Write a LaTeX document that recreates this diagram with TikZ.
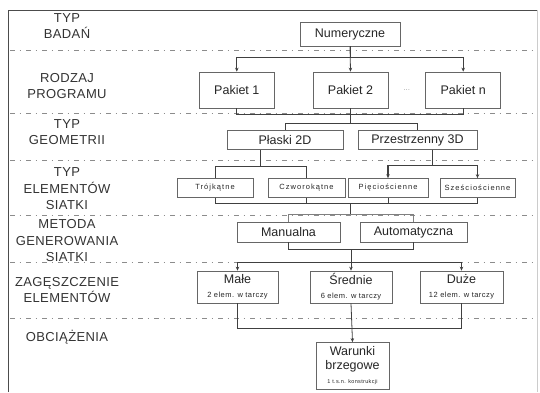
\documentclass[tikz,border=0pt]{standalone}
\usepackage{fontspec}
\setmainfont{Liberation Sans}
\usetikzlibrary{positioning, arrows.meta, calc}

\newcommand{\notefont}{\fontsize{7.5}{9}\selectfont\addfontfeature{LetterSpace=6}}

\begin{document}
\begin{tikzpicture}[
    x=1pt, y=-1pt,
    node distance=38pt,
    box/.style={rectangle, draw=black!60, line width=0.7pt, fill=white, align=center, inner sep=1pt, text=black!85, font=\fontsize{12.5}{14}\selectfont},
    elem/.style={box, minimum height=19pt, font=\fontsize{7.5}{8}\selectfont\addfontfeature{LetterSpace=14}},
    level/.style={align=center, text=black!80, font=\fontsize{13}{16.5}\selectfont\addfontfeature{LetterSpace=3}},
    sep/.style={black!45, line width=0.6pt, dash pattern=on 4.5pt off 5pt on 1.5pt off 5pt},
    link/.style={black!75, line width=0.8pt},
    arrow/.style={link, -{Stealth[length=4pt, width=3.5pt]}}
]
    \useasboundingbox (0,0) rectangle (540,392);

    % frame and level separators
    \draw[black!70, line width=0.7pt] (8,392) -- (8,10) -- (537,10);
    \draw[black!20, line width=0.6pt] (537,10) -- (537,392);
    \foreach \y in {50,113,160,215,262,318}
        \draw[sep] (10,\y) -- (532,\y);

    % levels
    \node[level] (badan) at (67,26) {TYP\\BADAŃ};
    \node[level] (program) at (67,86) {RODZAJ\\PROGRAMU};
    \node[level] (geometria) at (67,132) {TYP\\GEOMETRII};
    \node[level] (elementy) at (67,189) {TYP\\ELEMENTÓW\\SIATKI};
    \node[level] (metoda) at (67,241) {METODA\\GENEROWANIA\\SIATKI};
    \node[level] (zageszcz) at (67,290) {ZAGĘSZCZENIE\\ELEMENTÓW};
    \node[level] (obciaz) at (67,337) {OBCIĄŻENIA};

    % boxes
    \node[box, minimum width=100pt, minimum height=24pt] (num) at (350,34) {Numeryczne};

    \node[box, minimum width=75pt, minimum height=36pt] (pak2) at (350.5,90) {Pakiet 2};
    \node[box, minimum width=75pt, minimum height=36pt, left=of pak2] (pak1) {Pakiet 1};
    \node[box, minimum width=75pt, minimum height=36pt, right=37pt of pak2] (pakn) {Pakiet n};
    \node[text=black!35, font=\footnotesize] (dots) at ($(pak2.east)!.5!(pakn.west)$) {...};

    \node[box, minimum width=116pt, minimum height=19pt] (plaski) at (285,140) {Płaski 2D};
    \node[box, minimum width=119pt, minimum height=19pt] (przestrz) at (417.5,140) {Przestrzenny 3D};

    \node[elem, minimum width=76pt] (tro) at (215,188) {Trójkątne};
    \node[elem, minimum width=77pt] (czw) at (306.5,188) {Czworokątne};
    \node[elem, minimum width=80pt] (pie) at (388,188) {Pięciościenne};
    \node[elem, minimum width=75pt] (sze) at (477.5,188) {Sześciościenne};

    \node[box, minimum width=103pt, minimum height=20pt] (man) at (288.5,232) {Manualna};
    \node[box, minimum width=107pt, minimum height=20pt] (auto) at (413.5,232) {Automatyczna};

    \node[box, minimum width=81pt, minimum height=32pt] (male) at (237.5,287) {Małe\\{\notefont 2 elem. w tarczy}};
    \node[box, minimum width=82pt, minimum height=32pt] (sred) at (351,287) {Średnie\\{\notefont 6 elem. w tarczy}};
    \node[box, minimum width=83pt, minimum height=32pt] (duze) at (461.5,287) {Duże\\{\notefont 12 elem. w tarczy}};

    \node[box, minimum width=73pt, minimum height=47pt] (war) at (352.5,366) {Warunki\\brzegowe\\{\fontsize{5.5}{7}\selectfont\addfontfeature{LetterSpace=6} 1 t.s.n. konstrukcji}};

    % connectors
    \draw[arrow] (num.south) -- ++(0,11) -| (pak1.north);
    \draw[arrow] (num.south) -- ++(0,11) -| (pakn.north);
    \draw[arrow] (num.south) -- (pak2.north);

    \draw[link] (pak1.south) -- ++(0,6) -| (pakn.south);
    \draw[link] (pak2.south) -- ++(0,15) coordinate (g1);
    \draw[link] (g1) -| (plaski.north);
    \draw[link] (g1) -| (przestrz.north);

    \coordinate (e1) at ($(tro.north)!.5!(czw.north)$);
    \coordinate (e2) at ($(pie.north)!.5!(sze.north)$);
    \draw[link] (plaski.south -| e1) -- ++(0,17) -| (tro.north);
    \draw[link] (plaski.south -| e1) -- ++(0,17) -| (czw.north);
    \draw[arrow, line width=1.1pt] (przestrz.south -| e2) -- ++(0,16) -| (pie.north);
    \draw[arrow, line width=1.1pt] (przestrz.south -| e2) -- ++(0,16) -| (sze.north);

    \draw[link] (tro.south) -- ++(0,6) -| (sze.south);
    \draw[link] (czw.south) -- ++(0,6);
    \draw[link] (pie.south) -- ++(0,6);
    \draw[link] ($(tro.south -| num.south)+(0,6)$) -- ++(0,11) coordinate (g2);
    \draw[link, black!50] (g2) -| (man.north);
    \draw[link, black!50] (g2) -| (auto.north);

    \draw[link] (man.south) -- ++(0,7) -| (auto.south);
    \draw[link] ($(man.south)!.5!(auto.south)+(0,7)$) -- ++(0,13) coordinate (g3);
    \draw[arrow, line width=1.1pt] (g3) -| (male.north);
    \draw[arrow, line width=1.1pt] (g3) -| (duze.north);
    \draw[arrow] (g3) -- (sred.north);

    \draw[link] (male.south) -- ++(0,25) -| (duze.south);
    \draw[arrow] (sred.south) -- (war.north);

\end{tikzpicture}
\end{document}
